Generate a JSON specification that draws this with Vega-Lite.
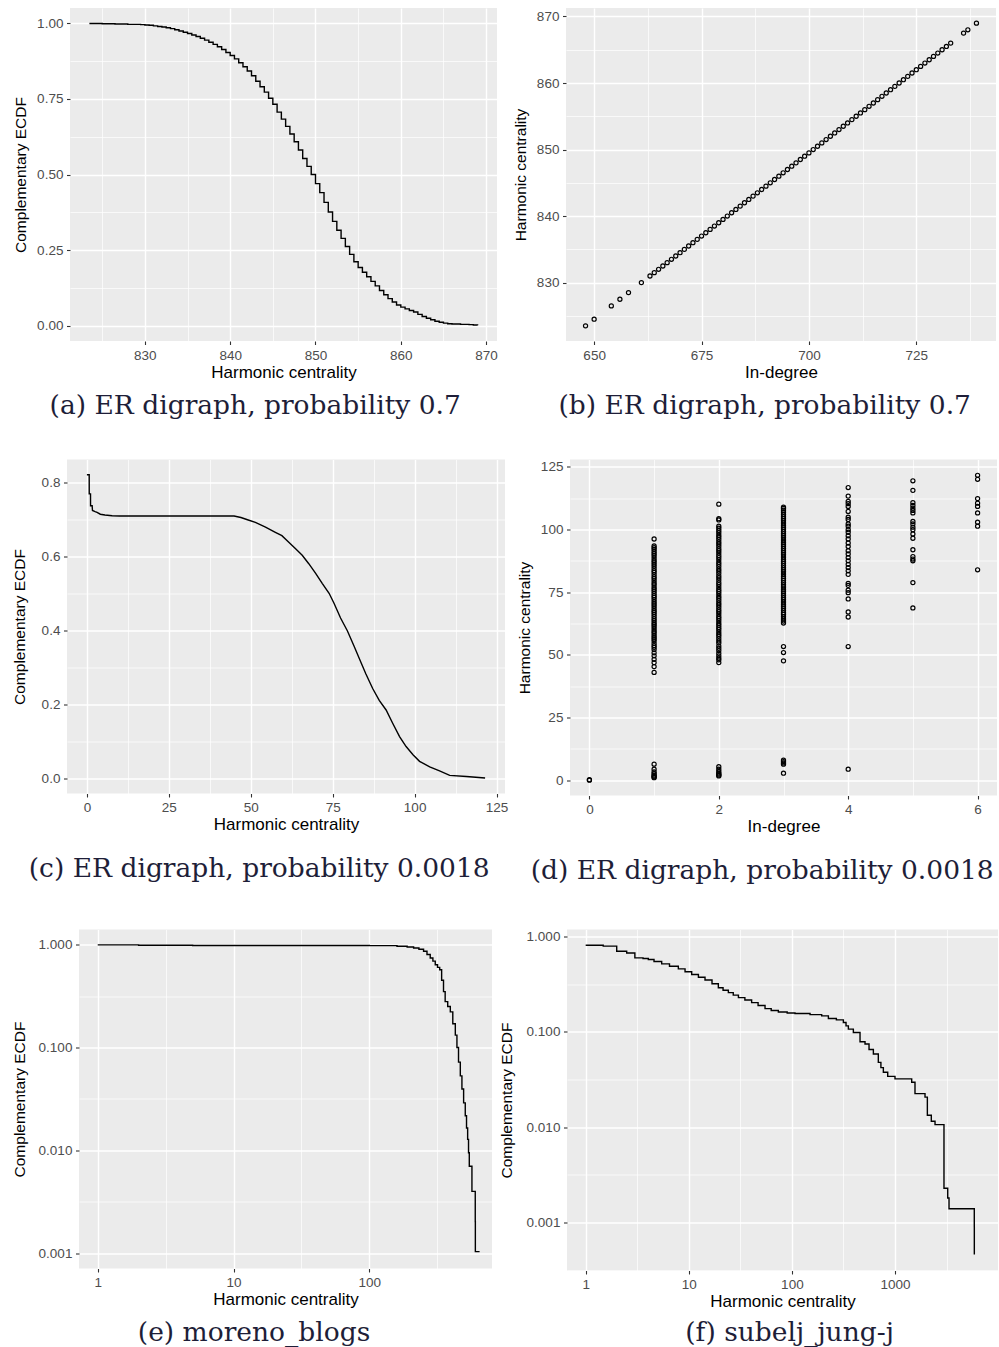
{
"$schema": "https://vega.github.io/schema/vega-lite/v6.json",
"padding": {"left": 0, "top": 8, "right": 0, "bottom": 0},
"background": "white",
"datasets": {
"a": [{"x":823.5,"y":0.999},{"x":825,"y":0.998},{"x":826.5,"y":0.997},{"x":828,"y":0.996},{"x":829.5,"y":0.995},{"x":830,"y":0.994},{"x":830.5,"y":0.993},{"x":831,"y":0.991},{"x":831.5,"y":0.989},{"x":832,"y":0.987},{"x":832.5,"y":0.985},{"x":833,"y":0.982},{"x":833.5,"y":0.978},{"x":834,"y":0.974},{"x":834.5,"y":0.970},{"x":835,"y":0.966},{"x":835.5,"y":0.961},{"x":836,"y":0.956},{"x":836.5,"y":0.950},{"x":837,"y":0.944},{"x":837.5,"y":0.937},{"x":838,"y":0.930},{"x":838.5,"y":0.922},{"x":839,"y":0.913},{"x":839.5,"y":0.903},{"x":840,"y":0.893},{"x":840.5,"y":0.882},{"x":841,"y":0.869},{"x":841.5,"y":0.856},{"x":842,"y":0.842},{"x":842.5,"y":0.826},{"x":843,"y":0.808},{"x":843.5,"y":0.790},{"x":844,"y":0.772},{"x":844.5,"y":0.752},{"x":845,"y":0.732},{"x":845.5,"y":0.706},{"x":846,"y":0.683},{"x":846.5,"y":0.659},{"x":847,"y":0.634},{"x":847.5,"y":0.608},{"x":848,"y":0.581},{"x":848.5,"y":0.553},{"x":849,"y":0.527},{"x":849.5,"y":0.500},{"x":850,"y":0.470},{"x":850.5,"y":0.440},{"x":851,"y":0.408},{"x":851.5,"y":0.376},{"x":852,"y":0.345},{"x":852.5,"y":0.316},{"x":853,"y":0.289},{"x":853.5,"y":0.262},{"x":854,"y":0.236},{"x":854.5,"y":0.212},{"x":855,"y":0.193},{"x":855.5,"y":0.177},{"x":856,"y":0.162},{"x":856.5,"y":0.147},{"x":857,"y":0.132},{"x":857.5,"y":0.117},{"x":858,"y":0.103},{"x":858.5,"y":0.090},{"x":859,"y":0.079},{"x":859.5,"y":0.069},{"x":860,"y":0.062},{"x":860.5,"y":0.056},{"x":861,"y":0.051},{"x":861.5,"y":0.046},{"x":862,"y":0.038},{"x":862.5,"y":0.031},{"x":863,"y":0.025},{"x":863.5,"y":0.020},{"x":864,"y":0.015},{"x":864.5,"y":0.012},{"x":865,"y":0.009},{"x":865.5,"y":0.007},{"x":866,"y":0.006},{"x":867,"y":0.005},{"x":868,"y":0.004},{"x":868.5,"y":0.003},{"x":869,"y":0.002}],
"b": [{"x":648,"y":823.5},{"x":650,"y":824.5},{"x":654,"y":826.5},{"x":656,"y":827.5},{"x":658,"y":828.5},{"x":661,"y":830},{"x":663,"y":831},{"x":664,"y":831.5},{"x":665,"y":832},{"x":666,"y":832.5},{"x":667,"y":833},{"x":668,"y":833.5},{"x":669,"y":834},{"x":670,"y":834.5},{"x":671,"y":835},{"x":672,"y":835.5},{"x":673,"y":836},{"x":674,"y":836.5},{"x":675,"y":837},{"x":676,"y":837.5},{"x":677,"y":838},{"x":678,"y":838.5},{"x":679,"y":839},{"x":680,"y":839.5},{"x":681,"y":840},{"x":682,"y":840.5},{"x":683,"y":841},{"x":684,"y":841.5},{"x":685,"y":842},{"x":686,"y":842.5},{"x":687,"y":843},{"x":688,"y":843.5},{"x":689,"y":844},{"x":690,"y":844.5},{"x":691,"y":845},{"x":692,"y":845.5},{"x":693,"y":846},{"x":694,"y":846.5},{"x":695,"y":847},{"x":696,"y":847.5},{"x":697,"y":848},{"x":698,"y":848.5},{"x":699,"y":849},{"x":700,"y":849.5},{"x":701,"y":850},{"x":702,"y":850.5},{"x":703,"y":851},{"x":704,"y":851.5},{"x":705,"y":852},{"x":706,"y":852.5},{"x":707,"y":853},{"x":708,"y":853.5},{"x":709,"y":854},{"x":710,"y":854.5},{"x":711,"y":855},{"x":712,"y":855.5},{"x":713,"y":856},{"x":714,"y":856.5},{"x":715,"y":857},{"x":716,"y":857.5},{"x":717,"y":858},{"x":718,"y":858.5},{"x":719,"y":859},{"x":720,"y":859.5},{"x":721,"y":860},{"x":722,"y":860.5},{"x":723,"y":861},{"x":724,"y":861.5},{"x":725,"y":862},{"x":726,"y":862.5},{"x":727,"y":863},{"x":728,"y":863.5},{"x":729,"y":864},{"x":730,"y":864.5},{"x":731,"y":865},{"x":732,"y":865.5},{"x":733,"y":866},{"x":736,"y":867.5},{"x":737,"y":868},{"x":739,"y":869}],
"c": [{"x":0,"y":0.822},{"x":0.7,"y":0.822},{"x":0.71,"y":0.77},{"x":1.1,"y":0.77},{"x":1.11,"y":0.738},{"x":1.6,"y":0.738},{"x":1.7,"y":0.725},{"x":2.5,"y":0.722},{"x":3.1,"y":0.72},{"x":4.1,"y":0.715},{"x":5.5,"y":0.713},{"x":7.7,"y":0.711},{"x":10,"y":0.71},{"x":44.9,"y":0.71},{"x":47,"y":0.706},{"x":49,"y":0.7},{"x":51.4,"y":0.693},{"x":54.5,"y":0.68},{"x":57.5,"y":0.666},{"x":59.5,"y":0.657},{"x":61.6,"y":0.639},{"x":63.6,"y":0.622},{"x":65.7,"y":0.604},{"x":67.7,"y":0.581},{"x":69.8,"y":0.555},{"x":71.8,"y":0.528},{"x":73.9,"y":0.501},{"x":75.4,"y":0.474},{"x":77.4,"y":0.434},{"x":79.5,"y":0.399},{"x":81.5,"y":0.358},{"x":83.6,"y":0.314},{"x":85.1,"y":0.283},{"x":87.2,"y":0.243},{"x":89.2,"y":0.211},{"x":91.3,"y":0.185},{"x":93.3,"y":0.149},{"x":95.4,"y":0.113},{"x":97.4,"y":0.086},{"x":99.5,"y":0.064},{"x":101.5,"y":0.046},{"x":104.6,"y":0.031},{"x":107.6,"y":0.02},{"x":110.7,"y":0.008},{"x":115.8,"y":0.005},{"x":121.5,"y":0.001}],
"d": [{"x":0,"y":0},{"x":0,"y":0.2},
{"x":1,"y":1.0},{"x":1,"y":1.3},{"x":1,"y":1.6},{"x":1,"y":2.0},{"x":1,"y":2.6},{"x":1,"y":3.3},{"x":1,"y":4.4},{"x":1,"y":6.4},
{"x":1,"y":43.0},{"x":1,"y":45.3},{"x":1,"y":46.9},{"x":1,"y":48.2},{"x":1,"y":49.6},{"x":1,"y":50.8},{"x":1,"y":52.1},{"x":1,"y":53.0},{"x":1,"y":53.7},{"x":1,"y":54.6},{"x":1,"y":55.6},{"x":1,"y":56.3},{"x":1,"y":57.0},{"x":1,"y":57.8},{"x":1,"y":58.7},{"x":1,"y":59.4},{"x":1,"y":60.3},{"x":1,"y":61.2},{"x":1,"y":62.0},{"x":1,"y":62.7},{"x":1,"y":63.6},{"x":1,"y":64.4},{"x":1,"y":65.3},{"x":1,"y":66.2},{"x":1,"y":67.0},{"x":1,"y":67.7},{"x":1,"y":68.6},{"x":1,"y":69.5},{"x":1,"y":70.3},{"x":1,"y":71.1},{"x":1,"y":72.0},{"x":1,"y":72.9},{"x":1,"y":73.6},{"x":1,"y":74.5},{"x":1,"y":75.4},{"x":1,"y":76.2},{"x":1,"y":77.0},{"x":1,"y":77.9},{"x":1,"y":78.6},{"x":1,"y":79.5},{"x":1,"y":80.4},{"x":1,"y":81.1},{"x":1,"y":82.0},{"x":1,"y":82.9},{"x":1,"y":83.6},{"x":1,"y":84.5},{"x":1,"y":85.4},{"x":1,"y":86.2},{"x":1,"y":87.0},{"x":1,"y":87.7},{"x":1,"y":88.6},{"x":1,"y":89.5},{"x":1,"y":90.3},{"x":1,"y":91.1},{"x":1,"y":92.0},{"x":1,"y":92.7},{"x":1,"y":93.4},{"x":1,"y":96.2},
{"x":2,"y":1.7},{"x":2,"y":2.0},{"x":2,"y":2.4},{"x":2,"y":2.8},{"x":2,"y":3.5},{"x":2,"y":4.4},{"x":2,"y":5.4},
{"x":2,"y":46.9},{"x":2,"y":48.0},{"x":2,"y":48.7},{"x":2,"y":49.6},{"x":2,"y":50.6},{"x":2,"y":51.7},{"x":2,"y":52.6},{"x":2,"y":53.5},{"x":2,"y":54.7},{"x":2,"y":55.5},{"x":2,"y":56.4},{"x":2,"y":57.4},{"x":2,"y":58.2},{"x":2,"y":59.1},{"x":2,"y":60.1},{"x":2,"y":60.9},{"x":2,"y":61.8},{"x":2,"y":62.6},{"x":2,"y":63.6},{"x":2,"y":64.5},{"x":2,"y":65.3},{"x":2,"y":66.3},{"x":2,"y":67.2},{"x":2,"y":68.0},{"x":2,"y":69.0},{"x":2,"y":69.9},{"x":2,"y":70.7},{"x":2,"y":71.7},{"x":2,"y":72.6},{"x":2,"y":73.4},{"x":2,"y":74.4},{"x":2,"y":75.3},{"x":2,"y":76.1},{"x":2,"y":77.1},{"x":2,"y":78.0},{"x":2,"y":78.8},{"x":2,"y":79.8},{"x":2,"y":80.7},{"x":2,"y":81.5},{"x":2,"y":82.5},{"x":2,"y":83.4},{"x":2,"y":84.2},{"x":2,"y":85.2},{"x":2,"y":86.1},{"x":2,"y":86.9},{"x":2,"y":87.9},{"x":2,"y":88.8},{"x":2,"y":89.6},{"x":2,"y":90.6},{"x":2,"y":91.5},{"x":2,"y":92.3},{"x":2,"y":93.3},{"x":2,"y":94.2},{"x":2,"y":95.0},{"x":2,"y":96.0},{"x":2,"y":96.9},{"x":2,"y":97.7},{"x":2,"y":98.7},{"x":2,"y":99.6},{"x":2,"y":100.5},{"x":2,"y":101.3},{"x":2,"y":103.8},{"x":2,"y":104.3},{"x":2,"y":110.1},
{"x":3,"y":2.8},{"x":3,"y":6.4},{"x":3,"y":6.9},{"x":3,"y":7.4},{"x":3,"y":8.0},{"x":3,"y":47.6},{"x":3,"y":50.9},{"x":3,"y":53.3},
{"x":3,"y":62.7},{"x":3,"y":63.5},{"x":3,"y":64.3},{"x":3,"y":65.2},{"x":3,"y":66.1},{"x":3,"y":66.8},{"x":3,"y":67.7},{"x":3,"y":68.6},{"x":3,"y":69.4},{"x":3,"y":70.2},{"x":3,"y":71.1},{"x":3,"y":72.0},{"x":3,"y":72.8},{"x":3,"y":73.7},{"x":3,"y":74.6},{"x":3,"y":75.4},{"x":3,"y":76.2},{"x":3,"y":77.1},{"x":3,"y":77.9},{"x":3,"y":78.8},{"x":3,"y":79.7},{"x":3,"y":80.5},{"x":3,"y":81.3},{"x":3,"y":82.2},{"x":3,"y":83.1},{"x":3,"y":83.9},{"x":3,"y":84.7},{"x":3,"y":85.6},{"x":3,"y":86.5},{"x":3,"y":87.3},{"x":3,"y":88.1},{"x":3,"y":89.0},{"x":3,"y":89.9},{"x":3,"y":90.7},{"x":3,"y":91.5},{"x":3,"y":92.4},{"x":3,"y":93.3},{"x":3,"y":94.1},{"x":3,"y":94.9},{"x":3,"y":95.8},{"x":3,"y":96.7},{"x":3,"y":97.5},{"x":3,"y":98.3},{"x":3,"y":99.2},{"x":3,"y":100.1},{"x":3,"y":100.9},{"x":3,"y":101.7},{"x":3,"y":102.6},{"x":3,"y":103.5},{"x":3,"y":104.3},{"x":3,"y":105.1},{"x":3,"y":106.0},{"x":3,"y":106.9},{"x":3,"y":107.7},{"x":3,"y":108.4},{"x":3,"y":108.9},
{"x":4,"y":4.4},{"x":4,"y":53.3},{"x":4,"y":65.1},{"x":4,"y":67.1},{"x":4,"y":72.3},{"x":4,"y":74.8},{"x":4,"y":75.8},{"x":4,"y":77.7},{"x":4,"y":78.5},{"x":4,"y":82.1},{"x":4,"y":83.5},{"x":4,"y":84.8},{"x":4,"y":86.1},{"x":4,"y":87.5},{"x":4,"y":88.8},{"x":4,"y":90.2},{"x":4,"y":91.5},{"x":4,"y":93.2},{"x":4,"y":94.6},{"x":4,"y":96.2},{"x":4,"y":97.5},{"x":4,"y":98.9},{"x":4,"y":99.9},{"x":4,"y":101.3},{"x":4,"y":102.2},{"x":4,"y":104.0},{"x":4,"y":104.9},{"x":4,"y":107.2},{"x":4,"y":109.2},{"x":4,"y":110.3},{"x":4,"y":111.2},{"x":4,"y":113.3},{"x":4,"y":116.7},
{"x":5,"y":68.7},{"x":5,"y":78.8},{"x":5,"y":87.5},{"x":5,"y":88.2},{"x":5,"y":89.2},{"x":5,"y":91.9},{"x":5,"y":96.5},{"x":5,"y":98.2},{"x":5,"y":99.9},{"x":5,"y":100.9},{"x":5,"y":102.2},{"x":5,"y":103.2},{"x":5,"y":106.6},{"x":5,"y":107.6},{"x":5,"y":108.5},{"x":5,"y":109.6},{"x":5,"y":110.7},{"x":5,"y":115.6},{"x":5,"y":119.4},
{"x":6,"y":83.9},{"x":6,"y":101.3},{"x":6,"y":102.9},{"x":6,"y":106.6},{"x":6,"y":109.2},{"x":6,"y":110.5},{"x":6,"y":112.3},{"x":6,"y":120.0},{"x":6,"y":121.6}],
"e": [{"x":1,"y":0.992},{"x":2,"y":0.985},{"x":5,"y":0.98},{"x":20,"y":0.978},{"x":100,"y":0.976},{"x":160,"y":0.962},{"x":190,"y":0.945},{"x":212,"y":0.927},{"x":232,"y":0.9},{"x":251,"y":0.86},{"x":266,"y":0.8},{"x":281,"y":0.74},{"x":294,"y":0.69},{"x":306,"y":0.637},{"x":318,"y":0.6},{"x":330,"y":0.569},{"x":341,"y":0.45},{"x":352,"y":0.349},{"x":362,"y":0.279},{"x":378,"y":0.25},{"x":395,"y":0.222},{"x":412,"y":0.17},{"x":430,"y":0.132},{"x":442,"y":0.1},{"x":454,"y":0.0721},{"x":468,"y":0.053},{"x":481,"y":0.0395},{"x":495,"y":0.029},{"x":509,"y":0.0217},{"x":520,"y":0.0165},{"x":530,"y":0.0128},{"x":538,"y":0.0095},{"x":545,"y":0.00703},{"x":570,"y":0.004},{"x":603,"y":0.00204},{"x":604,"y":0.00104},{"x":649,"y":0.00104}],
"f": [{"x":1,"y":0.806},{"x":1.48,"y":0.79},{"x":2.0,"y":0.698},{"x":2.5,"y":0.67},{"x":3.0,"y":0.594},{"x":3.6,"y":0.585},{"x":4.05,"y":0.571},{"x":4.6,"y":0.545},{"x":5.46,"y":0.515},{"x":6.5,"y":0.485},{"x":7.92,"y":0.456},{"x":9.2,"y":0.425},{"x":10.67,"y":0.398},{"x":12.4,"y":0.372},{"x":14.37,"y":0.348},{"x":16.8,"y":0.318},{"x":19.35,"y":0.289},{"x":21.5,"y":0.272},{"x":24.2,"y":0.257},{"x":27,"y":0.242},{"x":30.3,"y":0.2275},{"x":35,"y":0.215},{"x":40.7,"y":0.2018},{"x":47,"y":0.188},{"x":54.9,"y":0.1747},{"x":63,"y":0.167},{"x":73.9,"y":0.161},{"x":90,"y":0.157},{"x":107.2,"y":0.155},{"x":150,"y":0.151},{"x":194.5,"y":0.1465},{"x":225.9,"y":0.1374},{"x":270,"y":0.133},{"x":315.6,"y":0.1248},{"x":335,"y":0.115},{"x":353,"y":0.1063},{"x":394.6,"y":0.0982},{"x":458,"y":0.0785},{"x":512,"y":0.0743},{"x":560,"y":0.065},{"x":617,"y":0.0584},{"x":689,"y":0.0477},{"x":730,"y":0.042},{"x":771,"y":0.0376},{"x":850,"y":0.034},{"x":1000,"y":0.032},{"x":1452,"y":0.0295},{"x":1563,"y":0.0224},{"x":1955,"y":0.0206},{"x":2060,"y":0.0133},{"x":2250,"y":0.0115},{"x":2445,"y":0.0106},{"x":2986,"y":0.00228},{"x":3246,"y":0.0018},{"x":3342,"y":0.00139},{"x":5875,"y":0.00091},{"x":5880,"y":0.00046}]
},
"concat": [
{"concat": [
{"hconcat": [
{"width": 1, "height": 1, "data": {"values": []}, "mark": "point", "view": {"fill": null, "stroke": null}},
{"width": 427, "height": 333, "data": {"name": "a"},
 "title": {"text": "(a) ER digraph, probability 0.7", "offset": 13.2, "dx": 0},
 "mark": {"type": "line", "interpolate": "step-after"},
 "encoding": {
  "x": {"field": "x", "type": "quantitative", "scale": {"domain": [821.225, 871.275], "nice": false, "zero": false},
   "axis": {"title": "Harmonic centrality", "values": [825,830,835,840,845,850,855,860,865,870],
    "labelExpr": "datum.value % 10 == 0 ? format(datum.value, 'd') : ''",
    "gridWidth": {"condition": {"test": "datum.value % 10 == 0", "value": 1.4}, "value": 0.7},
    "tickOpacity": {"condition": {"test": "datum.value % 10 == 0", "value": 1}, "value": 0}}},
  "y": {"field": "y", "type": "quantitative", "scale": {"domain": [-0.05, 1.05], "nice": false, "zero": false},
   "axis": {"title": "Complementary ECDF", "titlePadding": 8.5, "values": [0,0.125,0.25,0.375,0.5,0.625,0.75,0.875,1],
    "labelExpr": "abs(datum.value*4 - round(datum.value*4)) < 0.001 ? format(datum.value, '.2f') : ''",
    "gridWidth": {"condition": {"test": "abs(datum.value*4 - round(datum.value*4)) < 0.001", "value": 1.4}, "value": 0.7},
    "tickOpacity": {"condition": {"test": "abs(datum.value*4 - round(datum.value*4)) < 0.001", "value": 1}, "value": 0}}}
 }},
{"width": 430, "height": 333, "data": {"name": "b"},
 "title": {"text": "(b) ER digraph, probability 0.7", "offset": 13.2, "dx": 10},
 "mark": {"type": "point", "filled": false, "size": 17, "strokeWidth": 1.2, "color": "#000000", "opacity": 1},
 "encoding": {
  "x": {"field": "x", "type": "quantitative", "scale": {"domain": [643.45, 743.55], "nice": false, "zero": false},
   "axis": {"title": "In-degree", "values": [650,662.5,675,687.5,700,712.5,725,737.5],
    "labelExpr": "datum.value % 25 == 0 ? format(datum.value, 'd') : ''",
    "gridWidth": {"condition": {"test": "datum.value % 25 == 0", "value": 1.4}, "value": 0.7},
    "tickOpacity": {"condition": {"test": "datum.value % 25 == 0", "value": 1}, "value": 0}}},
  "y": {"field": "y", "type": "quantitative", "scale": {"domain": [821.225, 871.275], "nice": false, "zero": false},
   "axis": {"title": "Harmonic centrality", "titlePadding": 8, "values": [825,830,835,840,845,850,855,860,865,870],
    "labelExpr": "datum.value % 10 == 0 ? format(datum.value, 'd') : ''",
    "gridWidth": {"condition": {"test": "datum.value % 10 == 0", "value": 1.4}, "value": 0.7},
    "tickOpacity": {"condition": {"test": "datum.value % 10 == 0", "value": 1}, "value": 0}}}
 }}
], "spacing": 69, "bounds": "flush"},
{"hconcat": [
{"width": 2, "height": 1, "data": {"values": []}, "mark": "point", "view": {"fill": null, "stroke": null}},
{"width": 438, "height": 334, "data": {"name": "c"},
 "title": {"text": "(c) ER digraph, probability 0.0018", "offset": 23.2, "dx": -1},
 "mark": {"type": "line"},
 "encoding": {
  "x": {"field": "x", "type": "quantitative", "scale": {"domain": [-6.075, 127.575], "nice": false, "zero": false},
   "axis": {"title": "Harmonic centrality", "values": [0,12.5,25,37.5,50,62.5,75,87.5,100,112.5,125],
    "labelExpr": "datum.value % 25 == 0 ? format(datum.value, 'd') : ''",
    "gridWidth": {"condition": {"test": "datum.value % 25 == 0", "value": 1.4}, "value": 0.7},
    "tickOpacity": {"condition": {"test": "datum.value % 25 == 0", "value": 1}, "value": 0}}},
  "y": {"field": "y", "type": "quantitative", "scale": {"domain": [-0.0411, 0.8631], "nice": false, "zero": false},
   "axis": {"title": "Complementary ECDF", "titlePadding": 13.5, "values": [0,0.1,0.2,0.3,0.4,0.5,0.6,0.7,0.8],
    "labelExpr": "abs(datum.value*5 - round(datum.value*5)) < 0.001 ? format(datum.value, '.1f') : ''",
    "gridWidth": {"condition": {"test": "abs(datum.value*5 - round(datum.value*5)) < 0.001", "value": 1.4}, "value": 0.7},
    "tickOpacity": {"condition": {"test": "abs(datum.value*5 - round(datum.value*5)) < 0.001", "value": 1}, "value": 0}}}
 }},
{"width": 427, "height": 336, "data": {"name": "d"},
 "title": {"text": "(d) ER digraph, probability 0.0018", "offset": 23.2, "dx": 5},
 "mark": {"type": "point", "filled": false, "size": 17, "strokeWidth": 1.2, "color": "#000000", "opacity": 1},
 "encoding": {
  "x": {"field": "x", "type": "quantitative", "scale": {"domain": [-0.3, 6.3], "nice": false, "zero": false},
   "axis": {"title": "In-degree", "values": [0,1,2,3,4,5,6],
    "labelExpr": "datum.value % 2 == 0 ? format(datum.value, 'd') : ''",
    "gridWidth": {"condition": {"test": "datum.value % 2 == 0", "value": 1.4}, "value": 0.7},
    "tickOpacity": {"condition": {"test": "datum.value % 2 == 0", "value": 1}, "value": 0}}},
  "y": {"field": "y", "type": "quantitative", "scale": {"domain": [-6.1, 127.9], "nice": false, "zero": false},
   "axis": {"title": "Harmonic centrality", "titlePadding": 8, "values": [0,12.5,25,37.5,50,62.5,75,87.5,100,112.5,125],
    "labelExpr": "datum.value % 25 == 0 ? format(datum.value, 'd') : ''",
    "gridWidth": {"condition": {"test": "datum.value % 25 == 0", "value": 1.4}, "value": 0.7},
    "tickOpacity": {"condition": {"test": "datum.value % 25 == 0", "value": 1}, "value": 0}}}
 }}
], "spacing": 65, "bounds": "flush"}
], "columns": 1, "align": "none", "spacing": 39.5},
{"hconcat": [
{"width": 4, "height": 1, "data": {"values": []}, "mark": "point", "view": {"fill": null, "stroke": null}},
{"width": 413, "height": 339, "data": {"name": "e"},
 "title": {"text": "(e) moreno_blogs", "offset": 12, "dx": 2},
 "mark": {"type": "line", "interpolate": "step-after"},
 "encoding": {
  "x": {"field": "x", "type": "quantitative", "scale": {"type": "log", "domain": [0.728, 801], "nice": false},
   "axis": {"title": "Harmonic centrality", "values": [1,3.1623,10,31.623,100,316.23],
    "labelExpr": "abs(log(datum.value)/LN10 - round(log(datum.value)/LN10)) < 0.01 ? format(datum.value, 'd') : ''",
    "gridWidth": {"condition": {"test": "abs(log(datum.value)/LN10 - round(log(datum.value)/LN10)) < 0.01", "value": 1.4}, "value": 0.7},
    "tickOpacity": {"condition": {"test": "abs(log(datum.value)/LN10 - round(log(datum.value)/LN10)) < 0.01", "value": 1}, "value": 0}}},
  "y": {"field": "y", "type": "quantitative", "scale": {"type": "log", "domain": [0.000713, 1.40], "nice": false},
   "axis": {"title": "Complementary ECDF", "titlePadding": 11, "values": [0.001,0.0031623,0.01,0.031623,0.1,0.31623,1],
    "labelExpr": "abs(log(datum.value)/LN10 - round(log(datum.value)/LN10)) < 0.01 ? format(datum.value, '.3f') : ''",
    "gridWidth": {"condition": {"test": "abs(log(datum.value)/LN10 - round(log(datum.value)/LN10)) < 0.01", "value": 1.4}, "value": 0.7},
    "tickOpacity": {"condition": {"test": "abs(log(datum.value)/LN10 - round(log(datum.value)/LN10)) < 0.01", "value": 1}, "value": 0}}}
 }},
{"width": 431, "height": 341, "data": {"name": "f"},
 "title": {"text": "(f) subelj_jung-j", "offset": 10.2, "dx": 41},
 "mark": {"type": "line", "interpolate": "step-after"},
 "encoding": {
  "x": {"field": "x", "type": "quantitative", "scale": {"type": "log", "domain": [0.659, 9977], "nice": false},
   "axis": {"title": "Harmonic centrality", "values": [1,3.1623,10,31.623,100,316.23,1000,3162.3],
    "labelExpr": "abs(log(datum.value)/LN10 - round(log(datum.value)/LN10)) < 0.01 ? format(datum.value, 'd') : ''",
    "gridWidth": {"condition": {"test": "abs(log(datum.value)/LN10 - round(log(datum.value)/LN10)) < 0.01", "value": 1.4}, "value": 0.7},
    "tickOpacity": {"condition": {"test": "abs(log(datum.value)/LN10 - round(log(datum.value)/LN10)) < 0.01", "value": 1}, "value": 0}}},
  "y": {"field": "y", "type": "quantitative", "scale": {"type": "log", "domain": [0.000313, 1.18], "nice": false},
   "axis": {"title": "Complementary ECDF", "titlePadding": 12, "values": [0.00031623,0.001,0.0031623,0.01,0.031623,0.1,0.31623,1],
    "labelExpr": "abs(log(datum.value)/LN10 - round(log(datum.value)/LN10)) < 0.01 ? format(datum.value, '.3f') : ''",
    "gridWidth": {"condition": {"test": "abs(log(datum.value)/LN10 - round(log(datum.value)/LN10)) < 0.01", "value": 1.4}, "value": 0.7},
    "tickOpacity": {"condition": {"test": "abs(log(datum.value)/LN10 - round(log(datum.value)/LN10)) < 0.01", "value": 1}, "value": 0}}}
 }}
], "spacing": 75, "bounds": "flush"}
],
"columns": 1,
"align": "none",
"spacing": 43.5,
"config": {
 "view": {"fill": "#EBEBEB", "stroke": null},
 "font": "Liberation Sans",
 "axis": {"domain": false, "grid": true, "gridColor": "#FFFFFF", "labelFont": "Liberation Sans", "labelFontSize": 13.5, "labelColor": "#4D4D4D", "labelPadding": 3.6, "tickSize": 3.5, "tickColor": "#333333", "tickWidth": 1.1, "titleFont": "Liberation Sans", "titleFontWeight": "normal", "titleColor": "#000000", "labelOverlap": false, "labelFlush": false, "labelBound": false, "minExtent": 0},
 "axisX": {"titleFontSize": 17, "titlePadding": 2.5},
 "axisY": {"titleFontSize": 15.5},
 "title": {"orient": "bottom", "anchor": "middle", "frame": "bounds", "font": "DejaVu Serif", "fontSize": 26.5, "fontWeight": "normal", "color": "#1e1e38"},
 "line": {"color": "#000000", "strokeWidth": 1.4}
}
}
